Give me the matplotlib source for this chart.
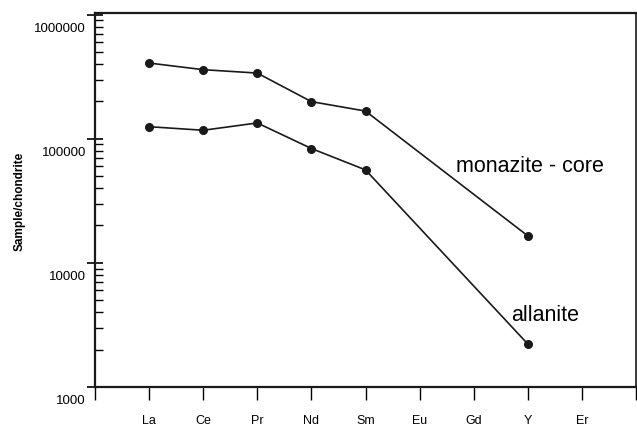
import numpy as np
import matplotlib
matplotlib.use("Agg")
import matplotlib.pyplot as plt
import matplotlib.ticker as mticker
import matplotlib.transforms as mtransforms

plt.rcParams['font.family'] = ['Liberation Sans', 'DejaVu Sans']

# REE names and x positions
elements = ["La", "Ce", "Pr", "Nd", "Sm", "Eu", "Gd", "Y", "Er"]
elem_pos = [1, 2, 3, 4, 5, 6, 7, 8, 9]

# sample/chondrite values
monazite_x = [1, 2, 3, 4, 5, 8]
monazite_y = [407000, 360000, 338000, 199000, 167000, 16500]
allanite_x = [1, 2, 3, 4, 5, 8]
allanite_y = [125000, 117000, 134000, 83400, 56100, 2220]

fig = plt.figure(figsize=(6.37, 4.27), dpi=100)
ax = fig.add_axes([95 / 637, 39 / 427, 541 / 637, 374 / 427])

ax.plot(monazite_x, monazite_y, color='#1a1a1a', lw=1.2, marker='o', ms=5.5)
ax.plot(allanite_x, allanite_y, color='#1a1a1a', lw=1.2, marker='o', ms=5.5)

ax.set_yscale('log')
ax.set_ylim(1000, 1.03e6)
ax.set_xlim(0, 10)

# y axis ticks
ax.yaxis.set_major_locator(mticker.FixedLocator([1000, 10000, 100000, 1000000]))
ax.yaxis.set_major_formatter(mticker.FixedFormatter(["1000", "10000", "100000", "1000000"]))
ax.yaxis.set_minor_locator(mticker.LogLocator(base=10, subs=np.arange(2, 10)))
ax.yaxis.set_minor_formatter(mticker.NullFormatter())
ax.tick_params(axis='y', which='major', direction='inout', length=11, width=1.2,
               labelsize=9.5, pad=1)
ax.tick_params(axis='y', which='minor', direction='in', length=6, width=1.0)

# shift y labels below their ticks
offset = mtransforms.ScaledTranslation(0, -0.12, fig.dpi_scale_trans)
for lab in ax.get_yticklabels():
    lab.set_transform(lab.get_transform() + offset)

# x axis ticks
ax.set_xticks(range(0, 11))
ax.set_xticklabels([""] + elements + [""])
ax.tick_params(axis='x', direction='out', length=9.5, width=1.0, labelsize=9, pad=10)

ax.set_ylabel("Sample/chondrite", fontsize=8.5, fontweight='bold')
ax.yaxis.set_label_coords(-0.128, 0.5)

for side in ['left', 'bottom', 'top']:
    ax.spines[side].set_linewidth(1.6)
ax.spines['right'].set_linewidth(1.2)
for sp in ax.spines.values():
    sp.set_color('#1a1a1a')

ax.text(6.68, 61000, "monazite - core", fontsize=15.5, va='center', ha='left')
ax.text(7.7, 3870, "allanite", fontsize=15.5, va='center', ha='left')

fig.savefig("out.png", dpi=100)
